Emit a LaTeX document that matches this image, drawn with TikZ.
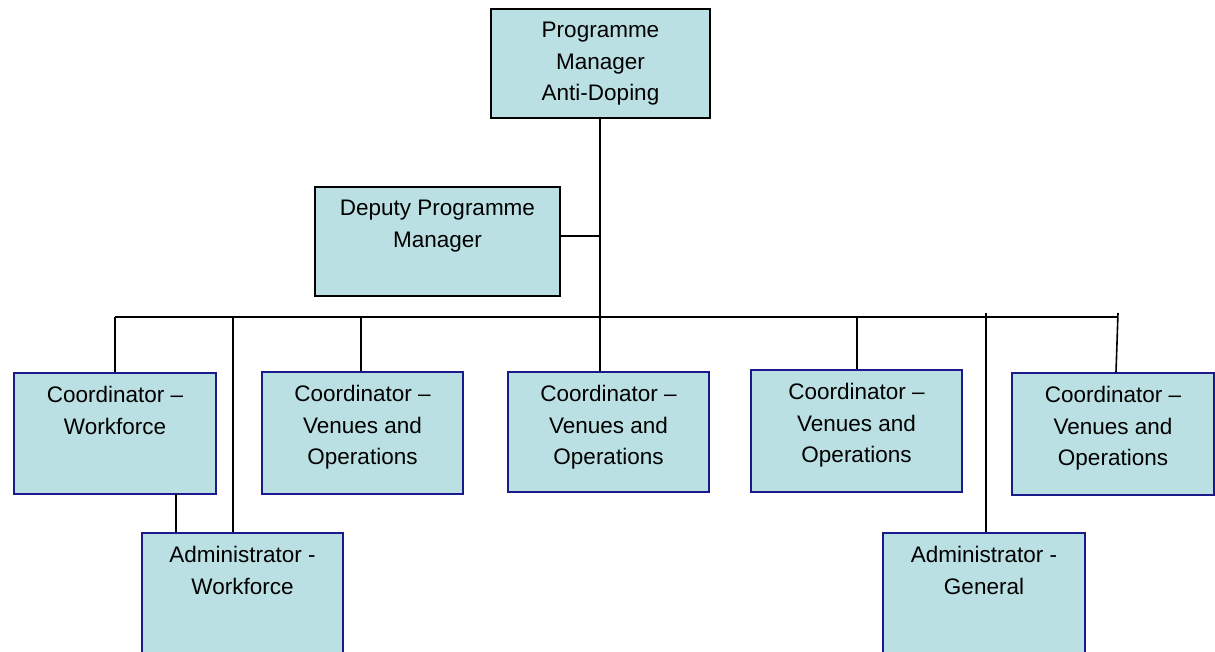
\documentclass[tikz,border=0pt]{standalone}
\usepackage{fontspec}
\setmainfont{Liberation Sans}
\begin{document}
\begin{tikzpicture}[x=1pt,y=-1pt,
  box/.style={draw=black, line width=1.6pt, fill=boxfill, inner sep=0pt},
  subbox/.style={box, draw=boxline},
  caption/.style={anchor=north, inner sep=0pt, align=center,
    font=\fontsize{22.5}{31.5}\selectfont},
  link/.style={draw=black, line width=1.6pt}]
\definecolor{boxfill}{HTML}{BBE0E3}
\definecolor{boxline}{HTML}{1A1A8C}
\useasboundingbox (0,0) rectangle (1215,652);

% boxes
\node[box, minimum width=219pt, minimum height=109pt] (pm) at (600.5,63.5) {};
\node[box, minimum width=245pt, minimum height=109pt] (dpm) at (437.5,241.5) {};
\node[subbox, minimum width=202pt, minimum height=121pt] (c1) at (115,433.5) {};
\node[subbox, minimum width=201pt, minimum height=122pt] (c2) at (362.5,433) {};
\node[subbox, minimum width=201pt, minimum height=120pt] (c3) at (608.5,432) {};
\node[subbox, minimum width=211pt, minimum height=122pt] (c4) at (856.5,431) {};
\node[subbox, minimum width=202pt, minimum height=122pt] (c5) at (1113,434) {};
\node[subbox, minimum width=201pt, minimum height=140pt] (a1) at (242.5,603) {};
\node[subbox, minimum width=202pt, minimum height=140pt] (a2) at (984,603) {};

% captions
\node[caption] (pm-t) at ([yshift=-14pt]pm.north) {Programme\\Manager\\Anti-Doping};
\node[caption] (dpm-t) at ([yshift=-14pt]dpm.north) {Deputy Programme\\Manager};
\node[caption] (c1-t) at ([yshift=-14pt]c1.north) {Coordinator –\\Workforce};
\node[caption] (c2-t) at ([yshift=-14pt]c2.north) {Coordinator –\\Venues and\\Operations};
\node[caption] (c3-t) at ([yshift=-14pt]c3.north) {Coordinator –\\Venues and\\Operations};
\node[caption] (c4-t) at ([yshift=-14pt]c4.north) {Coordinator –\\Venues and\\Operations};
\node[caption] (c5-t) at ([yshift=-14pt]c5.north) {Coordinator –\\Venues and\\Operations};
\node[caption] (a1-t) at ([yshift=-14pt]a1.north) {Administrator -\\Workforce};
\node[caption] (a2-t) at ([yshift=-14pt]a2.north) {Administrator -\\General};

% bus junctions
\coordinate (bL) at (115,317);
\coordinate (bR) at (1118,317);
\coordinate (j2) at (361,317);
\coordinate (j3) at (600,317);
\coordinate (j4) at (857,317);
\coordinate (ja1) at (233,317);
\coordinate (ja2) at (986,313);
\coordinate (jr) at (1118,313);
\coordinate (jd) at (600,236);
\coordinate (c1s) at (176,494);

% connectors
\draw[link] (pm.south -| j3) -- (j3);
\draw[link] (dpm.east |- jd) -- (jd);
\draw[link] (bL) -- (bR);
\draw[link] (bL) -- (c1.north);
\draw[link] (j2) -- (j2 |- c2.north);
\draw[link] (j3) -- (j3 |- c3.north);
\draw[link] (j4) -- (j4 |- c4.north);
\draw[link] (jr) -- ([xshift=-2pt]jr |- c5.north);
\draw[link] (ja1) -- (ja1 |- a1.north);
\draw[link] (ja2) -- (ja2 |- a2.north);
\draw[link] (c1s) -- (c1s |- a1.north);
\end{tikzpicture}
\end{document}
